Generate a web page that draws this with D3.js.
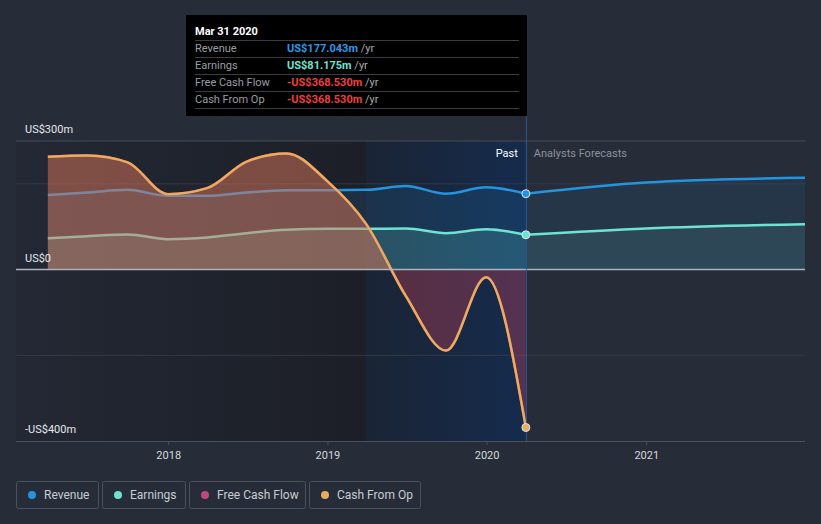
<!DOCTYPE html>
<html>
<head>
<meta charset="utf-8">
<script src="https://cdn.jsdelivr.net/npm/d3@7"></script>
<style>
  html, body { margin: 0; padding: 0; background: #262c38; }
  body { width: 821px; height: 524px; overflow: hidden; font-family: Roboto, "Noto Sans", sans-serif; }
  svg { display: block; }
</style>
</head>
<body>
<svg id="chart" width="821" height="524"></svg>
<script>
// ---------- data ----------
const pastDates = ["2017-03-31","2017-06-30","2017-09-30","2017-12-31","2018-03-31","2018-06-30","2018-09-30","2018-12-31","2019-03-31","2019-06-30","2019-09-30","2019-12-31","2020-03-31"];
const revenuePast  = [174, 180, 186, 172, 172, 180, 185, 185, 186, 195, 177, 192, 177.043];
const earningsPast = [73, 78, 82, 71, 75, 85, 93, 95, 95, 96, 85, 94, 81.175];
const fcfPast      = [263, 266, 250, 176, 190, 252, 271, 207, 106, -62, -189, -18, -368.53];
const cfoPast      = [263, 266, 250, 176, 190, 252, 271, 207, 106, -62, -189, -18, -368.53];

const forecastDates    = ["2020-03-31","2020-12-31","2021-12-31"];
const revenueForecast  = [177.043, 203, 214];
const earningsForecast = [81.175, 96, 106];

const yTickValues = [300, 0, -400];
const yTickLabels = ["US$300m", "US$0", "-US$400m"];
const yGridValues = [300, 200, 0, -200];
const xTickYears  = ["2018-01-01","2019-01-01","2020-01-01","2021-01-01"];
const xTickLabels = ["2018","2019","2020","2021"];

const seriesNames  = ["Revenue","Earnings","Free Cash Flow","Cash From Op"];
const seriesColors = ["#2394df","#6ee3d3","#c2457f","#e9ad5c"];

const tooltipTitle  = "Mar 31 2020";
const tooltipValues = ["US$177.043m","US$81.175m","-US$368.530m","-US$368.530m"];

// ---------- setup ----------
const parse = d3.utcParse("%Y-%m-%d");
const svg = d3.select("#chart");
const L = 16, R = 805, T = 141, B = 441;

const x = d3.scaleUtc().domain([parse("2017-01-17"), parse("2021-12-31")]).range([L, R]);
const y = d3.scaleLinear().domain([-400, 300]).range([B, T]);

const past = pastDates.map((d, i) => ({date: parse(d), rev: revenuePast[i], earn: earningsPast[i], fcf: fcfPast[i], cfo: cfoPast[i]}));
const fut  = forecastDates.map((d, i) => ({date: parse(d), rev: revenueForecast[i], earn: earningsForecast[i]}));

const defs = svg.append("defs");
const lg1 = defs.append("linearGradient").attr("id","leftShade").attr("x1",0).attr("x2",1).attr("y1",0).attr("y2",0);
lg1.append("stop").attr("offset","0%").attr("stop-color","#232834");
lg1.append("stop").attr("offset","100%").attr("stop-color","#1c1f27");
const lg2 = defs.append("linearGradient").attr("id","pastShade").attr("x1",0).attr("x2",1).attr("y1",0).attr("y2",0);
lg2.append("stop").attr("offset","0%").attr("stop-color","#1a2434");
lg2.append("stop").attr("offset","100%").attr("stop-color","#152b4d");

defs.append("clipPath").attr("id","plotClip").append("rect")
  .attr("x", L).attr("y", 0).attr("width", R - L).attr("height", B);
defs.append("clipPath").attr("id","aboveZero").append("rect")
  .attr("x", L).attr("y", 0).attr("width", R - L).attr("height", y(0));

const pastStart = parse("2019-03-31"), nowDate = parse("2020-03-31");

// backgrounds
svg.append("rect").attr("x", L).attr("y", T).attr("width", x(pastStart) - L).attr("height", B - T).attr("fill","url(#leftShade)");
svg.append("rect").attr("x", x(pastStart)).attr("y", T).attr("width", x(nowDate) - x(pastStart)).attr("height", B - T).attr("fill","url(#pastShade)");

// grid
svg.append("g").selectAll("line").data(yGridValues).join("line")
  .attr("x1", L).attr("x2", R).attr("y1", d => y(d)).attr("y2", d => y(d))
  .attr("stroke", d => d === 300 ? "#454b57" : "#333946").attr("stroke-width", 1);

// axis
const xAxis = d3.axisBottom(x).tickValues(xTickYears.map(parse)).tickFormat((d, i) => xTickLabels[i]).tickSize(4).tickPadding(6);
const ax = svg.append("g").attr("transform", `translate(0,${B})`).call(xAxis);
ax.select(".domain").attr("stroke","#4a505c").attr("d", `M${L},0.5H${R}`);
ax.selectAll(".tick line").attr("stroke","#4a505c");
ax.selectAll(".tick text").attr("fill","#d5d8dd").attr("font-size", 11).attr("font-family","Roboto, sans-serif");

const plot = svg.append("g").attr("clip-path","url(#plotClip)");
const curve = d3.curveMonotoneX;

function area(key) { return d3.area().x(d => x(d.date)).y0(y(0)).y1(d => y(d[key])).curve(curve); }
function line(key) { return d3.line().x(d => x(d.date)).y(d => y(d[key])).curve(curve); }

// revenue
plot.append("path").datum(past).attr("d", area("rev")).attr("fill", seriesColors[0]).attr("fill-opacity", 0.14);
plot.append("path").datum(fut).attr("d", area("rev")).attr("fill", seriesColors[0]).attr("fill-opacity", 0.1);
plot.append("path").datum(past).attr("d", line("rev")).attr("fill","none").attr("stroke", seriesColors[0]).attr("stroke-width", 2.5);
plot.append("path").datum(fut).attr("d", line("rev")).attr("fill","none").attr("stroke", seriesColors[0]).attr("stroke-width", 2.5);
// earnings
plot.append("path").datum(past).attr("d", area("earn")).attr("fill", seriesColors[1]).attr("fill-opacity", 0.18);
plot.append("path").datum(fut).attr("d", area("earn")).attr("fill", seriesColors[1]).attr("fill-opacity", 0.1);
plot.append("path").datum(past).attr("d", line("earn")).attr("fill","none").attr("stroke", seriesColors[1]).attr("stroke-width", 2.5);
plot.append("path").datum(fut).attr("d", line("earn")).attr("fill","none").attr("stroke", seriesColors[1]).attr("stroke-width", 2.5);
// FCF + CFO
plot.append("path").datum(past).attr("d", area("fcf")).attr("fill", "#d4445a").attr("fill-opacity", 0.33);
plot.append("path").datum(past).attr("d", area("cfo")).attr("fill", seriesColors[3]).attr("fill-opacity", 0.25).attr("clip-path","url(#aboveZero)");
plot.append("path").datum(past).attr("d", line("fcf")).attr("fill","none").attr("stroke", seriesColors[2]).attr("stroke-width", 2.5);
plot.append("path").datum(past).attr("d", line("cfo")).attr("fill","none").attr("stroke", seriesColors[3]).attr("stroke-width", 2.5);

// zero line
svg.append("line").attr("x1", L).attr("x2", R).attr("y1", y(0)).attr("y2", y(0)).attr("stroke","#aeb2ba").attr("stroke-width", 1.5);

// now line
svg.append("line").attr("x1", x(nowDate) + 0.5).attr("x2", x(nowDate) + 0.5).attr("y1", 116).attr("y2", B)
  .attr("stroke","#2a5a9c").attr("stroke-width", 1);

// markers
const last = past[past.length - 1];
[["rev", 0], ["earn", 1], ["cfo", 3]].forEach(([k, ci]) => {
  svg.append("circle").attr("cx", x(last.date)).attr("cy", y(last[k])).attr("r", 4)
    .attr("fill", seriesColors[ci]).attr("stroke", "#dfe6ee").attr("stroke-width", 1);
});

// past / forecast labels
svg.append("text").attr("x", x(nowDate) - 8).attr("y", 157).attr("text-anchor","end")
  .attr("fill","#ffffff").attr("font-size", 11).text("Past");
svg.append("text").attr("x", x(nowDate) + 8).attr("y", 157)
  .attr("fill","#8d929b").attr("font-size", 11).text("Analysts Forecasts");

// y labels
svg.append("g").selectAll("text").data(yTickValues).join("text")
  .attr("x", 25).attr("y", d => y(d) - 8)
  .attr("fill","#e6e8eb").attr("font-size", 11)
  .text((d, i) => yTickLabels[i]);

// tooltip
const tt = svg.append("g");
tt.append("rect").attr("x", 186).attr("y", 15).attr("width", 341).attr("height", 101).attr("fill","#000000");
tt.append("text").attr("x", 195).attr("y", 35).attr("fill","#ffffff").attr("font-size", 11).attr("font-weight","bold").text(tooltipTitle);
const sepY = [40, 57, 74, 91, 108];
tt.selectAll("line").data(sepY).join("line").attr("x1", 195).attr("x2", 519).attr("y1", d => d + 0.5).attr("y2", d => d + 0.5).attr("stroke","#3a3d42");
const valColors = ["#2a9ae8", "#6ee3d3", "#ee3f3f", "#ee3f3f"];
seriesNames.forEach((n, i) => {
  const yy = 52 + i * 17;
  tt.append("text").attr("x", 195).attr("y", yy).attr("fill","#9a9ea5").attr("font-size", 11).text(n);
  const t = tt.append("text").attr("x", 287).attr("y", yy).attr("font-size", 11);
  t.append("tspan").attr("fill", valColors[i]).attr("font-weight","bold").text(tooltipValues[i]);
  t.append("tspan").attr("fill","#a8abb0").text(" /yr");
});

// legend
const legendX = [16, 102, 189, 309];
const legendW = [82, 83, 116, 111];
const lgd = svg.append("g");
seriesNames.forEach((n, i) => {
  const g = lgd.append("g").attr("transform", `translate(${legendX[i]},481)`);
  g.append("rect").attr("x", 0.5).attr("y", 0.5).attr("width", legendW[i]).attr("height", 27).attr("rx", 2)
    .attr("fill","none").attr("stroke","#4a505c");
  g.append("circle").attr("cx", 16).attr("cy", 14).attr("r", 4).attr("fill", seriesColors[i]);
  g.append("text").attr("x", 28).attr("y", 18).attr("fill","#c8ccd2").attr("font-size", 12).text(n);
});
</script>
</body>
</html>
